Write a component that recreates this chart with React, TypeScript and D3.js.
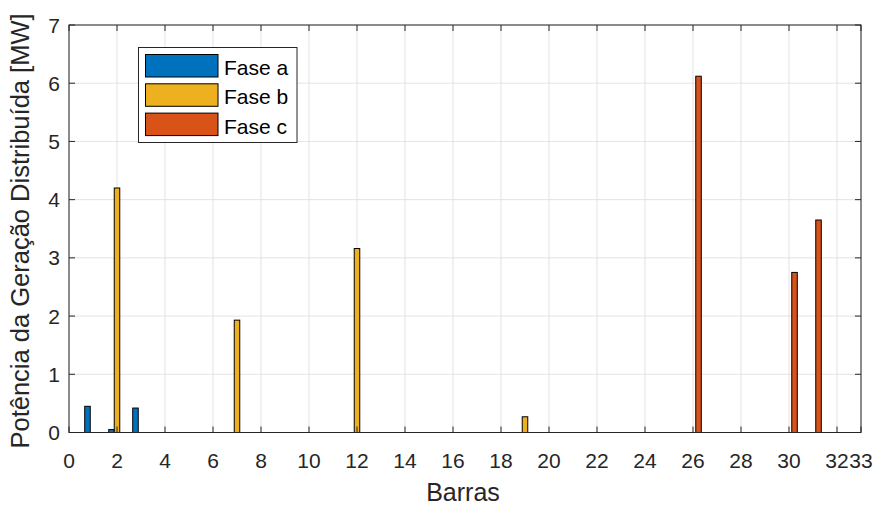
import React from "react";
import * as d3 from "d3";

const bars = d3.range(1, 34);
const faseA = bars.map((b) => (b === 1 ? 0.45 : b === 2 ? 0.05 : b === 3 ? 0.42 : 0));
const faseB = bars.map((b) => (b === 2 ? 4.2 : b === 7 ? 1.93 : b === 12 ? 3.16 : b === 19 ? 0.27 : 0));
const faseC = bars.map((b) => (b === 26 ? 6.12 : b === 30 ? 2.75 : b === 31 ? 3.65 : 0));
const seriesNames = ["Fase a", "Fase b", "Fase c"];
const colors = ["#0072BD", "#EDB120", "#D95319"];
const xTicks = [0, 2, 4, 6, 8, 10, 12, 14, 16, 18, 20, 22, 24, 26, 28, 30, 32, 33];
const yTicks = [0, 1, 2, 3, 4, 5, 6, 7];

export default function App() {
  const W = 874, H = 507;
  const left = 69, right = 861, top = 25, bottom = 432.5;
  const x = d3.scaleLinear().domain([0, 33]).range([left, right]);
  const y = d3.scaleLinear().domain([0, 7]).range([bottom, top]);
  const series = [faseA, faseB, faseC];
  const offs = [-0.23, 0, 0.23];
  const bw = 0.23;
  const font = "'Liberation Sans', Arial, sans-serif";
  const legX = 138.5, legY = 47.5;
  return (
    <svg width={W} height={H} style={{ position: "absolute", left: 0, top: 0, background: "#fff" }} fontFamily={font}>
      <rect x={0} y={0} width={W} height={H} fill="#fff" />
      {/* grid */}
      {xTicks.map((t) => (
        <line key={"gx" + t} x1={x(t)} x2={x(t)} y1={top} y2={bottom} stroke="#e3e3e3" strokeWidth={1} />
      ))}
      {yTicks.map((t) => (
        <line key={"gy" + t} x1={left} x2={right} y1={y(t)} y2={y(t)} stroke="#e3e3e3" strokeWidth={1} />
      ))}
      {/* bars */}
      {series.map((s, si) =>
        s.map((v, i) => {
          const b = bars[i];
          const x0 = x(b + offs[si] - bw / 2);
          const x1 = x(b + offs[si] + bw / 2);
          return (
            <rect key={si + "-" + i} x={x0} y={y(v)} width={x1 - x0} height={y(0) - y(v)}
              fill={colors[si]} stroke="#000" strokeWidth={1} />
          );
        })
      )}
      {/* axes box */}
      <rect x={left} y={top} width={right - left} height={bottom - top} fill="none" stroke="#262626" strokeWidth={1} />
      {xTicks.map((t) => (
        <g key={"tx" + t}>
          <line x1={x(t)} x2={x(t)} y1={bottom} y2={bottom - 6} stroke="#262626" />
          <line x1={x(t)} x2={x(t)} y1={top} y2={top + 6} stroke="#262626" />
          <text x={x(t)} y={468} textAnchor="middle" fontSize={21} fill="#262626">{t}</text>
        </g>
      ))}
      {yTicks.map((t) => (
        <g key={"ty" + t}>
          <line x1={left} x2={left + 6} y1={y(t)} y2={y(t)} stroke="#262626" />
          <line x1={right} x2={right - 6} y1={y(t)} y2={y(t)} stroke="#262626" />
          <text x={60} y={y(t) + 7.5} textAnchor="end" fontSize={21} fill="#262626">{t}</text>
        </g>
      ))}
      <text x={463} y={501} textAnchor="middle" fontSize={25} fill="#262626">Barras</text>
      <text transform={`translate(28.5,231) rotate(-90)`} textAnchor="middle" fontSize={25.5} fill="#262626">
        Potência da Geração Distribuída [MW]
      </text>
      {/* legend */}
      <rect x={legX} y={legY} width={158.5} height={95} fill="#fff" stroke="#262626" strokeWidth={1} />
      {seriesNames.map((n, i) => (
        <g key={n}>
          <rect x={145.5} y={54.5 + i * 29.3} width={72.5} height={22.5} fill={colors[i]} stroke="#000" strokeWidth={1} />
          <text x={224} y={54.5 + i * 29.3 + 20.5} fontSize={21} fill="#000">{n}</text>
        </g>
      ))}
    </svg>
  );
}
